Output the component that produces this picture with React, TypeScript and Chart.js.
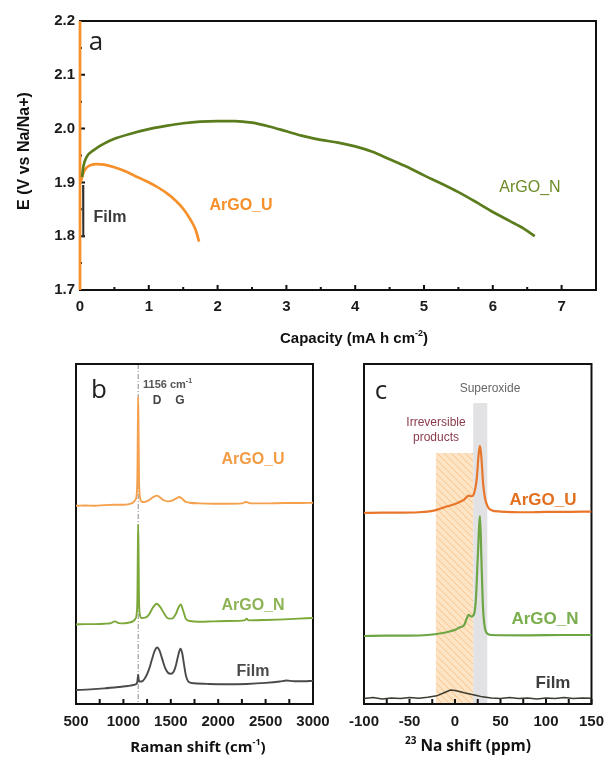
import React, { useEffect, useRef } from "react";
import { Chart, registerables } from "chart.js";
Chart.register(...registerables);

const W = 613;
const H = 759;

// ---------------- Panel a: discharge curves ----------------
const capArgoNX = [0.03, 0.05, 0.1, 0.2, 0.35, 0.5, 0.75, 1.0, 1.25, 1.5, 1.75, 2.0, 2.25, 2.5, 2.75, 3.0, 3.25, 3.5, 3.75, 4.0, 4.25, 4.5, 4.75, 5.0, 5.25, 5.5, 5.75, 6.0, 6.25, 6.45, 6.61];
const capArgoNY = [1.91, 1.93, 1.948, 1.96, 1.972, 1.981, 1.991, 1.999, 2.005, 2.01, 2.013, 2.014, 2.014, 2.011, 2.004, 1.995, 1.986, 1.979, 1.974, 1.967, 1.957, 1.943, 1.929, 1.913, 1.898, 1.882, 1.864, 1.845, 1.828, 1.814, 1.8];
const capArgoUX = [0.01, 0.05, 0.1, 0.15, 0.25, 0.35, 0.5, 0.65, 0.8, 0.95, 1.1, 1.25, 1.4, 1.5, 1.6, 1.68, 1.73];
const capArgoUY = [1.9, 1.918, 1.928, 1.932, 1.934, 1.933, 1.928, 1.921, 1.912, 1.903, 1.893, 1.881, 1.865, 1.851, 1.832, 1.812, 1.79];
const capOcvX = [0, 0];
const capOcvY = [2.2, 1.7];
const capFilmX = [0.045, 0.048, 0.065];
const capFilmY = [1.895, 1.8, 1.8];

// ---------------- Panel b: Raman ----------------
const ramUX = [500, 600, 700, 800, 900, 1000, 1060, 1100, 1125, 1140, 1148, 1152, 1156, 1160, 1165, 1175, 1190, 1220, 1260, 1300, 1330, 1355, 1380, 1420, 1470, 1520, 1560, 1590, 1615, 1650, 1700, 1800, 1950, 2100, 2250, 2290, 2310, 2350, 2500, 2700, 2850, 3000];
const ramUY = [58.3, 58.4, 58.3, 58.5, 58.6, 58.6, 58.8, 59.2, 60.0, 61.5, 68, 80, 90.3, 80, 66, 60.8, 59.6, 59.4, 59.8, 60.6, 61.1, 61.3, 60.9, 60.0, 59.6, 59.9, 60.5, 60.9, 60.5, 59.6, 59.2, 59.0, 58.9, 58.9, 59.0, 59.4, 59.3, 59.0, 59.0, 59.1, 59.1, 59.2];
const ramNX = [500, 600, 700, 800, 870, 910, 950, 1000, 1050, 1100, 1125, 1140, 1148, 1152, 1156, 1160, 1164, 1172, 1190, 1230, 1270, 1310, 1350, 1390, 1430, 1470, 1510, 1550, 1580, 1605, 1630, 1660, 1700, 1800, 1950, 2100, 2280, 2300, 2320, 2500, 2700, 2850, 3000];
const ramNY = [23.4, 23.5, 23.5, 23.6, 23.8, 24.3, 23.8, 23.7, 23.9, 24.3, 25.0, 26.5, 32, 44, 52.8, 44, 32, 26.5, 25.3, 25.4, 26.3, 28.3, 29.5, 28.5, 26.6, 25.2, 25.1, 26.3, 28.3, 29.3, 27.5, 25.0, 24.4, 24.2, 24.3, 24.4, 24.6, 25.1, 24.6, 24.7, 24.9, 25.1, 25.3];
const ramFX = [500, 650, 800, 950, 1050, 1120, 1145, 1152, 1156, 1160, 1168, 1190, 1230, 1270, 1300, 1330, 1355, 1380, 1410, 1440, 1470, 1500, 1530, 1555, 1580, 1602, 1620, 1640, 1660, 1690, 1750, 1900, 2100, 2300, 2500, 2650, 2720, 2800, 2900, 3000];
const ramFY = [4.1, 4.3, 4.6, 5.0, 5.3, 5.7, 6.3, 7.8, 8.6, 7.5, 6.6, 6.6, 7.7, 10.2, 13.0, 15.6, 16.6, 15.8, 13.2, 10.6, 9.2, 8.9, 9.5, 11.5, 14.5, 16.3, 15.0, 11.5, 8.3, 6.5, 6.1, 5.9, 5.8, 5.9, 6.2, 6.6, 6.9, 6.7, 6.7, 6.8];
const ramMarker = 1156;

// ---------------- Panel c: 23Na NMR ----------------
const nmrUX = [-100, -80, -60, -40, -30, -20, -10, 0, 5, 10, 15, 18, 21, 24, 26, 27.5, 29, 31, 33, 36, 40, 50, 80, 100, 120, 150];
const nmrUY = [56.2, 56.3, 56.3, 56.4, 56.6, 57.1, 58.0, 58.8, 59.4, 60.1, 61.3, 61.1, 62, 66.5, 73.5, 75.9, 72.5, 64.5, 60.5, 58, 57, 56.6, 56.4, 56.5, 56.5, 56.6];
const nmrNX = [-100, -75, -50, -30, -15, -5, 0, 5, 10, 13, 15, 18, 21, 23, 25, 27.5, 29, 30.5, 32, 35, 40, 80, 120, 150];
const nmrNY = [20.0, 20.1, 20.1, 20.3, 20.8, 21.4, 21.8, 22.5, 23.2, 25.2, 26.2, 25.7, 26.5, 31, 43, 55.3, 43, 30, 24, 20.8, 20.3, 20.2, 20.3, 20.3];
const nmrFX = [-100, -90, -80, -70, -60, -50, -40, -30, -20, -12, -5, 0, 5, 10, 15, 20, 25, 30, 40, 50, 60, 70, 80, 90, 100, 110, 120, 130, 140, 150];
const nmrFY = [1.6, 1.9, 1.5, 1.8, 1.6, 1.9, 1.7, 2.0, 2.4, 3.3, 4.1, 4.0, 3.7, 3.3, 3.0, 2.7, 2.4, 2.1, 1.8, 1.6, 1.9, 1.6, 1.8, 1.5, 1.8, 1.6, 1.9, 1.6, 1.8, 1.7];
const irrevRange = [-21, 20];
const irrevTop = 73.8;
const superoxideRange = [20, 35.5];
const superoxideTop = 88.5;

// ---------------- helpers ----------------
const ARIAL = '"Liberation Sans", Arial, sans-serif';
const CALIBRI = '"Open Sans", "Noto Sans", sans-serif';

const zip = (xs: number[], ys: number[]) => xs.map((x, i) => ({ x, y: ys[i] }));

type Seg = { t: string; sup?: boolean };

function drawRich(ctx: CanvasRenderingContext2D, segs: Seg[], x: number, y: number, size: number, weight: string, family: string, color: string, align: "left" | "center" | "right" = "center") {
  ctx.save();
  ctx.fillStyle = color;
  ctx.textBaseline = "middle";
  ctx.textAlign = "left";
  const mainFont = `${weight} ${size}px ${family}`;
  const supFont = `${weight} ${Math.round(size * 0.62)}px ${family}`;
  let total = 0;
  const widths = segs.map((s) => {
    ctx.font = s.sup ? supFont : mainFont;
    const w = ctx.measureText(s.t).width;
    total += w;
    return w;
  });
  let cx = align === "center" ? x - total / 2 : align === "right" ? x - total : x;
  segs.forEach((s, i) => {
    ctx.font = s.sup ? supFont : mainFont;
    ctx.fillText(s.t, cx, s.sup ? y - size * 0.36 : y);
    cx += widths[i];
  });
  ctx.restore();
}

function text(ctx: CanvasRenderingContext2D, t: string, x: number, y: number, font: string, color: string, align: CanvasTextAlign = "center") {
  ctx.save();
  ctx.font = font;
  ctx.fillStyle = color;
  ctx.textAlign = align;
  ctx.textBaseline = "middle";
  ctx.fillText(t, x, y);
  ctx.restore();
}

function frame(chart: any) {
  const { ctx, chartArea: a } = chart;
  ctx.save();
  ctx.strokeStyle = "#111";
  ctx.lineWidth = 2;
  ctx.strokeRect(a.left, a.top, a.right - a.left, a.bottom - a.top);
  ctx.restore();
}

function xTicks(chart: any, min: number, max: number, step: number, majorEvery: number, majorLen: number, minorLen: number) {
  const { ctx, chartArea: a } = chart;
  const xs = chart.scales.x;
  ctx.save();
  ctx.strokeStyle = "#111";
  ctx.lineWidth = 2;
  ctx.beginPath();
  const n = Math.round((max - min) / step);
  for (let i = 0; i <= n; i++) {
    const v = min + i * step;
    const px = xs.getPixelForValue(v);
    const len = i % majorEvery === 0 ? majorLen : minorLen;
    ctx.moveTo(px, a.bottom);
    ctx.lineTo(px, a.bottom - len);
  }
  ctx.stroke();
  ctx.restore();
}

function yTicks(chart: any, min: number, max: number, step: number, majorEvery: number, majorLen: number, minorLen: number) {
  const { ctx, chartArea: a } = chart;
  const ys = chart.scales.y;
  ctx.save();
  ctx.strokeStyle = "#111";
  ctx.lineWidth = 2;
  ctx.beginPath();
  const n = Math.round((max - min) / step);
  for (let i = 0; i <= n; i++) {
    const v = min + i * step;
    const py = ys.getPixelForValue(v);
    const len = i % majorEvery === 0 ? majorLen : minorLen;
    ctx.moveTo(a.left, py);
    ctx.lineTo(a.left + len, py);
  }
  ctx.stroke();
  ctx.restore();
}

function line(data: { x: number; y: number }[], color: string, width: number, smooth = true, extra: any = {}) {
  return {
    data,
    borderColor: color,
    backgroundColor: color,
    borderWidth: width,
    pointRadius: 0,
    fill: false,
    tension: smooth ? 0.4 : 0,
    cubicInterpolationMode: smooth ? "monotone" : "default",
    ...extra,
  };
}

function xAxis(min: number, max: number, step: number, height: number, padding: number, size: number, fmt: (v: number) => string) {
  return {
    type: "linear",
    position: "bottom",
    min,
    max,
    grid: { display: false, drawTicks: false },
    border: { display: false },
    ticks: {
      stepSize: step,
      includeBounds: false,
      autoSkip: false,
      maxRotation: 0,
      minRotation: 0,
      padding,
      color: "#1a1a1a",
      font: { family: ARIAL, size, weight: "bold" },
      callback: (v: any) => fmt(Number(v)),
    },
    afterFit: (s: any) => {
      s.height = height;
    },
  };
}

const hiddenY = (min: number, max: number) => ({ type: "linear", display: false, min, max });

const baseOptions = (padding: any, scales: any) => ({
  responsive: false,
  maintainAspectRatio: false,
  animation: false,
  events: [],
  layout: { padding },
  plugins: { legend: { display: false }, tooltip: { enabled: false } },
  scales,
});

// ---------------- chart builders ----------------
function buildA(): any {
  const deco = {
    id: "decoA",
    beforeDatasetsDraw(chart: any) {
      frame(chart);
      xTicks(chart, 0, 7.5, 0.5, 2, 5, 3);
      yTicks(chart, 1.7, 2.2, 0.05, 2, 5, 2);
    },
    afterDraw(chart: any) {
      const ctx = chart.ctx;
      text(ctx, "a", 96, 43, `normal 26px ${CALIBRI}`, "#222");
      text(ctx, "ArGO_U", 241, 206, `bold 16px ${ARIAL}`, "#f5902a");
      text(ctx, "ArGO_N", 530, 188, `normal 16px ${ARIAL}`, "#6b8a24");
      text(ctx, "Film", 110, 218, `bold 16px ${ARIAL}`, "#3a3a3a");
      ctx.save();
      ctx.translate(25, 151);
      ctx.rotate(-Math.PI / 2);
      text(ctx, "E (V vs Na/Na+)", 0, 0, `bold 16px ${ARIAL}`, "#111");
      ctx.restore();
      drawRich(ctx, [{ t: "Capacity (mA h cm" }, { t: "-2", sup: true }, { t: ")" }], 354, 339, 15, "bold", ARIAL, "#111");
    },
  };
  return {
    type: "line",
    data: {
      datasets: [
        line(zip(capArgoNX, capArgoNY), "#5b7c1c", 2.7),
        line(zip(capArgoUX, capArgoUY), "#f5902a", 2.7),
        line(zip(capOcvX, capOcvY), "#f5902a", 2.7, false, { clip: 4 }),
        line(zip(capFilmX, capFilmY), "#2d2d2d", 2, false),
      ],
    },
    options: baseOptions({ left: 0, top: 21, right: 17, bottom: 429 }, {
      x: xAxis(0, 7.5, 1, 40, 8, 15, (v) => (Number.isInteger(v) ? String(v) : "")),
      y: {
        type: "linear",
        min: 1.7,
        max: 2.2,
        grid: { display: false, drawTicks: false },
        border: { display: false },
        ticks: { stepSize: 0.1, padding: 5, color: "#1a1a1a", font: { family: ARIAL, size: 15, weight: "bold" }, callback: (v: any) => Number(v).toFixed(1) },
        afterFit: (s: any) => {
          s.width = 80;
        },
      },
    }),
    plugins: [deco],
  };
}

function buildB(): any {
  const deco = {
    id: "decoB",
    beforeDatasetsDraw(chart: any) {
      const { ctx, chartArea: a } = chart;
      const px = chart.scales.x.getPixelForValue(ramMarker);
      ctx.save();
      ctx.strokeStyle = "#8a8a8a";
      ctx.lineWidth = 1;
      ctx.setLineDash([5, 2, 1, 2]);
      ctx.beginPath();
      ctx.moveTo(px, a.top);
      ctx.lineTo(px, a.bottom);
      ctx.stroke();
      ctx.restore();
      frame(chart);
      xTicks(chart, 500, 3000, 250, 2, 5, 5);
    },
    afterDraw(chart: any) {
      const ctx = chart.ctx;
      text(ctx, "b", 99, 391, `normal 26px ${CALIBRI}`, "#222");
      drawRich(ctx, [{ t: "1156 cm" }, { t: "-1", sup: true }], 143, 385, 11, "bold", ARIAL, "#555", "left");
      text(ctx, "D", 157, 401, `bold 12px ${ARIAL}`, "#444");
      text(ctx, "G", 180, 401, `bold 12px ${ARIAL}`, "#444");
      text(ctx, "ArGO_U", 253, 460, `bold 16px ${ARIAL}`, "#f39b45");
      text(ctx, "ArGO_N", 253, 606, `bold 16px ${ARIAL}`, "#8db356");
      text(ctx, "Film", 253, 672, `bold 16px ${ARIAL}`, "#4a4a4a");
      drawRich(ctx, [{ t: "Raman shift (cm" }, { t: "-1", sup: true }, { t: ")" }], 198, 748, 15, "bold", CALIBRI, "#111");
    },
  };
  return {
    type: "line",
    data: {
      datasets: [
        line(zip(ramUX, ramUY), "#f5a04d", 1.9),
        line(zip(ramNX, ramNY), "#7ca83a", 1.9),
        line(zip(ramFX, ramFY), "#4a4a4a", 1.9),
      ],
    },
    options: baseOptions({ left: 76, top: 364, right: 300, bottom: 25 }, {
      x: xAxis(500, 3000, 500, 30, 9, 15, (v) => String(v)),
      y: hiddenY(0, 100),
    }),
    plugins: [deco],
  };
}

function buildC(): any {
  const deco = {
    id: "decoC",
    beforeDatasetsDraw(chart: any) {
      const { ctx, chartArea: a } = chart;
      const xs = chart.scales.x;
      const ys = chart.scales.y;
      // irreversible products (hatched)
      const l = xs.getPixelForValue(irrevRange[0]);
      const r = xs.getPixelForValue(irrevRange[1]);
      const t = ys.getPixelForValue(irrevTop);
      const b = a.bottom;
      ctx.save();
      ctx.fillStyle = "#fde4c4";
      ctx.fillRect(l, t, r - l, b - t);
      ctx.beginPath();
      ctx.rect(l, t, r - l, b - t);
      ctx.clip();
      ctx.strokeStyle = "#f7c48c";
      ctx.lineWidth = 1;
      ctx.beginPath();
      const h = b - t;
      for (let k = -h; k < r - l + h; k += 7) {
        ctx.moveTo(l + k, t);
        ctx.lineTo(l + k + h, b);
      }
      ctx.stroke();
      ctx.restore();
      // superoxide band
      const l2 = xs.getPixelForValue(superoxideRange[0]);
      const r2 = xs.getPixelForValue(superoxideRange[1]);
      const t2 = ys.getPixelForValue(superoxideTop);
      ctx.save();
      ctx.fillStyle = "#e2e2e5";
      ctx.fillRect(l2, t2, r2 - l2, b - t2);
      ctx.restore();
      frame(chart);
      xTicks(chart, -100, 150, 25, 2, 5, 5);
    },
    afterDraw(chart: any) {
      const ctx = chart.ctx;
      text(ctx, "c", 381, 392, `normal 26px ${CALIBRI}`, "#222");
      text(ctx, "Superoxide", 490, 389, `normal 12px ${ARIAL}`, "#666");
      text(ctx, "Irreversible", 436, 423, `normal 12px ${ARIAL}`, "#8b3a4a");
      text(ctx, "products", 436, 438, `normal 12px ${ARIAL}`, "#8b3a4a");
      text(ctx, "ArGO_U", 543, 500, `bold 17px ${ARIAL}`, "#e2701f");
      text(ctx, "ArGO_N", 545, 619, `bold 17px ${ARIAL}`, "#7bae4e");
      text(ctx, "Film", 553, 683, `bold 17px ${ARIAL}`, "#3d3d3d");
      drawRich(ctx, [{ t: "23", sup: true }, { t: " Na shift (ppm)" }], 468, 747, 15.5, "bold", CALIBRI, "#111");
    },
  };
  return {
    type: "line",
    data: {
      datasets: [
        line(zip(nmrUX, nmrUY), "#e8762a", 2.2),
        line(zip(nmrNX, nmrNY), "#6ea545", 2.2),
        line(zip(nmrFX, nmrFY), "#3b3b2f", 1.5, false),
      ],
    },
    options: baseOptions({ left: 364, top: 364, right: 15, bottom: 25 }, {
      x: xAxis(-100, 150, 50, 30, 9, 15, (v) => String(v)),
      y: hiddenY(0, 100),
    }),
    plugins: [deco],
  };
}

function ChartCanvas({ build }: { build: () => any }) {
  const ref = useRef<HTMLCanvasElement>(null);
  useEffect(() => {
    if (!ref.current) return;
    const chart = new Chart(ref.current, build());
    return () => chart.destroy();
  }, [build]);
  return <canvas ref={ref} width={W} height={H} style={{ position: "absolute", left: 0, top: 0, width: W, height: H }} />;
}

export default function App() {
  return (
    <div style={{ position: "absolute", left: 0, top: 0, width: W, height: H, background: "#fff", overflow: "hidden" }}>
      <ChartCanvas build={buildA} />
      <ChartCanvas build={buildB} />
      <ChartCanvas build={buildC} />
    </div>
  );
}
